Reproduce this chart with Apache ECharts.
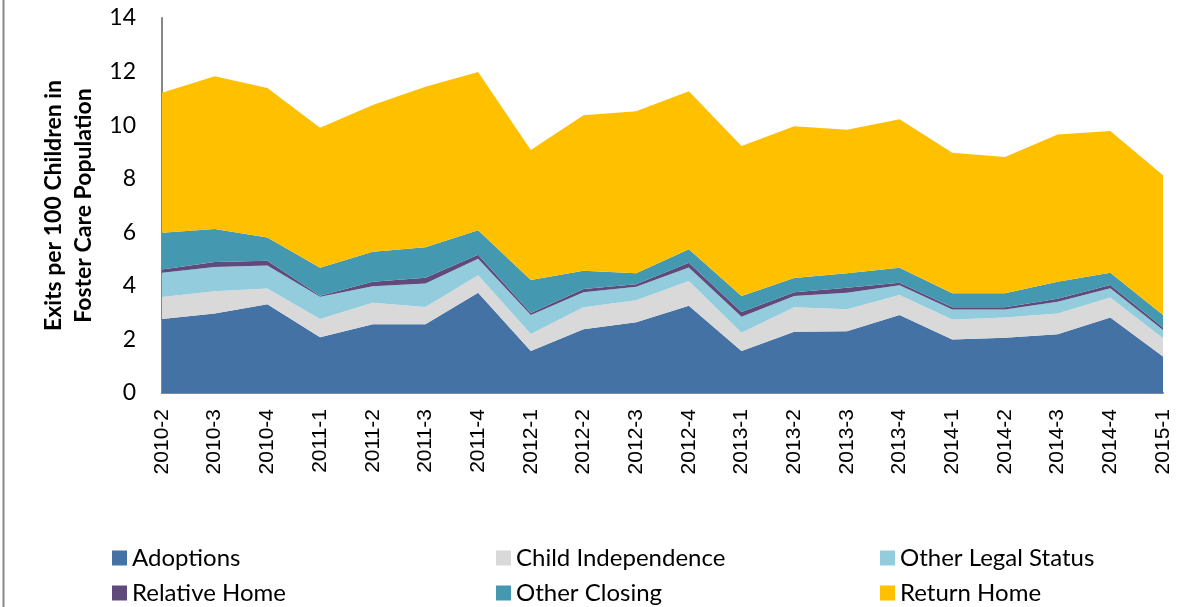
<!DOCTYPE html>
<html>
<head>
<meta charset="utf-8">
<script src="https://cdn.jsdelivr.net/npm/echarts@6/dist/echarts.min.js"></script>
<style>
  html, body { margin: 0; padding: 0; background: #fff; }
  #chart { width: 1187px; height: 607px; }
</style>
</head>
<body>
<div id="chart"></div>
<script>
// quarters
const quarters = ['2010-2', '2010-3', '2010-4', '2011-1', '2011-2', '2011-3', '2011-4',
    '2012-1', '2012-2', '2012-3', '2012-4', '2013-1', '2013-2', '2013-3', '2013-4',
    '2014-1', '2014-2', '2014-3', '2014-4', '2015-1'];

// exits per 100 children, by exit type
const adoptions = [2.76, 2.97, 3.31, 2.08, 2.57, 2.57, 3.74, 1.57, 2.38, 2.64, 3.26, 1.57, 2.29, 2.31, 2.91, 2.00, 2.06, 2.19, 2.82, 1.36];
const childIndependence = [0.82, 0.83, 0.59, 0.68, 0.80, 0.64, 0.66, 0.63, 0.82, 0.82, 0.92, 0.68, 0.91, 0.82, 0.75, 0.74, 0.76, 0.78, 0.75, 0.68];
const otherLegalStatus = [0.91, 0.90, 0.86, 0.83, 0.62, 0.88, 0.61, 0.71, 0.56, 0.51, 0.51, 0.60, 0.42, 0.61, 0.36, 0.38, 0.30, 0.44, 0.34, 0.31];
const relativeHome = [0.12, 0.19, 0.18, 0.04, 0.16, 0.21, 0.15, 0.08, 0.12, 0.09, 0.17, 0.17, 0.14, 0.19, 0.10, 0.08, 0.08, 0.11, 0.12, 0.10];
const otherClosing = [1.37, 1.23, 0.87, 1.05, 1.12, 1.14, 0.92, 1.23, 0.68, 0.41, 0.51, 0.60, 0.53, 0.54, 0.56, 0.52, 0.52, 0.63, 0.46, 0.46];
const returnHome = [5.23, 5.71, 5.58, 5.22, 5.48, 5.99, 5.90, 4.85, 5.81, 6.05, 5.90, 5.60, 5.67, 5.36, 5.54, 5.25, 5.09, 5.50, 5.29, 5.22];

const yTicks = [0, 2, 4, 6, 8, 10, 12, 14];

const seriesList = [
    { name: 'Adoptions', data: adoptions, color: '#4472A4' },
    { name: 'Child Independence', data: childIndependence, color: '#D9D9D9' },
    { name: 'Other Legal Status', data: otherLegalStatus, color: '#93CDDD' },
    { name: 'Relative Home', data: relativeHome, color: '#604A7B' },
    { name: 'Other Closing', data: otherClosing, color: '#4498AF' },
    { name: 'Return Home', data: returnHome, color: '#FFC000' }
];

// legend slots: 3 columns x 2 rows
const legendPos = [
    { left: 107, top: 541 }, { left: 491, top: 541 }, { left: 875, top: 541 },
    { left: 107, top: 576 }, { left: 491, top: 576 }, { left: 875, top: 576 }
];

const chart = echarts.init(document.getElementById('chart'));

chart.setOption({
    animation: false,
    color: seriesList.map(s => s.color),
    grid: { left: 162, right: 24, top: 18, bottom: 214, containLabel: false },
    legend: seriesList.map((s, i) => ({
        data: [s.name],
        left: legendPos[i].left,
        top: legendPos[i].top,
        itemWidth: 15,
        itemHeight: 15,
        itemGap: 7,
        icon: 'rect',
        selectedMode: false,
        textStyle: { fontFamily: 'Lato', fontSize: 24, color: '#000' }
    })),
    xAxis: {
        type: 'category',
        data: quarters,
        boundaryGap: false,
        axisLine: { lineStyle: { color: '#868686', width: 2 } },
        axisTick: { show: false },
        axisLabel: {
            rotate: 90,
            margin: 16,
            fontFamily: 'Liberation Sans',
            fontSize: 21,
            color: '#000',
            interval: 0
        }
    },
    yAxis: {
        type: 'value',
        min: yTicks[0],
        max: yTicks[yTicks.length - 1],
        interval: 2,
        name: 'Exits per 100 Children in\nFoster Care Population',
        nameLocation: 'middle',
        nameGap: 62,
        nameRotate: 90,
        nameTextStyle: { fontFamily: 'Lato', fontSize: 23, fontWeight: 'bold', color: '#000', lineHeight: 30 },
        axisLine: { show: true, lineStyle: { color: '#868686', width: 2 } },
        axisTick: { show: false },
        splitLine: { show: false },
        axisLabel: { fontFamily: 'Lato', fontSize: 23, color: '#000', margin: 26 }
    },
    graphic: [{
        type: 'line',
        shape: { x1: 3.5, y1: 0, x2: 3.5, y2: 607 },
        style: { stroke: '#888', lineWidth: 2 }
    }],
    series: seriesList.map(s => ({
        name: s.name,
        type: 'line',
        stack: 'exits',
        data: s.data,
        symbol: 'none',
        lineStyle: { width: 0 },
        areaStyle: { color: s.color, opacity: 1 },
        itemStyle: { color: s.color }
    }))
});
</script>
</body>
</html>
